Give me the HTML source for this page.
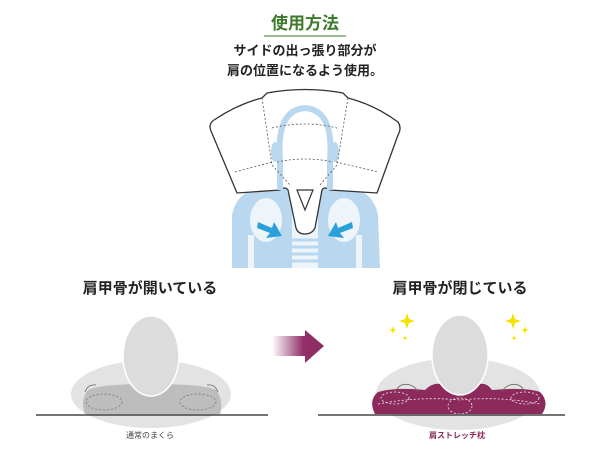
<!DOCTYPE html>
<html><head><meta charset="utf-8"><style>
html,body{margin:0;padding:0;background:#fff;}
svg{display:block;font-family:"Liberation Sans","Noto Sans CJK JP",sans-serif;}
</style></head><body>
<svg width="600" height="450" viewBox="0 0 600 450">
<defs>
<linearGradient id="ag" x1="0" x2="1"><stop offset="0" stop-color="#fff"/><stop offset="0.6" stop-color="#93306a"/><stop offset="1" stop-color="#8e2a60"/></linearGradient>
</defs>
<text x="305" y="29" text-anchor="middle" font-size="17" font-weight="bold" fill="#3d7a2a">使用方法</text>
<line x1="264" y1="36" x2="346" y2="36" stroke="#3d7a2a" stroke-width="1"/>
<text x="305" y="55" text-anchor="middle" font-size="13" font-weight="bold" fill="#222">サイドの出っ張り部分が</text>
<text x="305" y="75" text-anchor="middle" font-size="13" font-weight="bold" fill="#222">肩の位置になるよう使用。</text>
<!-- skeleton silhouette -->
<g fill="#b9d8f0">
<path d="M232 268 L232 215 Q236 192 262 186 L290 180 L320 180 L348 186 Q374 192 378 215 L380 268 Z"/>
</g>
<g fill="#fff" opacity="0.75">
<rect x="292" y="178" width="26" height="90"/>
<ellipse cx="266" cy="220" rx="16" ry="22"/><ellipse cx="344" cy="220" rx="16" ry="22"/>
<rect x="248" y="235" width="6" height="33"/><rect x="356" y="235" width="6" height="33"/>
</g>
<g stroke="#b9d8f0" stroke-width="3">
<line x1="290" y1="240" x2="320" y2="240"/><line x1="290" y1="247" x2="320" y2="247"/><line x1="290" y1="254" x2="320" y2="254"/><line x1="290" y1="261" x2="320" y2="261"/>
</g>
<!-- pillow outline -->
<path d="M267 93 Q305 86 343 93 L348 98 Q375 105 398 122 Q402 128 398 135 L377 193 L330 190 Q324 186 322 190 L315 228 Q312 234 305 234 Q298 234 296 228 L288 190 Q285 186 280 190 L237 193 L211 131 Q208 124 214 120 Q238 104 262 98 Z" fill="#fff" stroke="#333" stroke-width="1.3"/>
<path d="M280 190 L280 160 Q276 110 305 108 Q334 110 330 160 L330 190" fill="none" stroke="#b9d8f0" stroke-width="6"/>
<ellipse cx="275" cy="152" rx="4" ry="10" fill="#b9d8f0"/><ellipse cx="335" cy="152" rx="4" ry="10" fill="#b9d8f0"/>
<path d="M297 190 L313 190 L305 210 Z" fill="#fff" stroke="#333" stroke-width="1.2"/>
<g fill="none" stroke="#555" stroke-width="0.8" stroke-dasharray="2,2">
<path d="M262 98 L272 165 L290 185"/><path d="M348 98 L337 165 L320 185"/>
<path d="M272 128 Q305 120 337 128"/><path d="M277 162 Q305 156 333 162"/>
<path d="M235 172 L272 162"/><path d="M336 162 L378 172"/>
</g>
<path d="M258 222 L272 228 L274 222 L282 236 L266 238 L270 233 L257 228Z" fill="#2aa0dc"/>
<path d="M352 222 L338 228 L336 222 L328 236 L344 238 L340 233 L353 228Z" fill="#2aa0dc"/>
<text x="150" y="293" text-anchor="middle" font-size="15" font-weight="bold" fill="#222">肩甲骨が開いている</text>
<text x="460" y="293" text-anchor="middle" font-size="15" font-weight="bold" fill="#222">肩甲骨が閉じている</text>
<!-- left figure -->
<ellipse cx="151" cy="394" rx="80" ry="34" fill="#e3e3e3"/>
<path d="M85 414 Q80 400 88 390 Q100 384 150 384 Q205 384 216 390 Q224 400 220 414 Z" fill="#bdbdbd"/>
<ellipse cx="151" cy="325" rx="4" ry="6" fill="#d8d8d8"/>
<ellipse cx="151" cy="356" rx="28" ry="40" fill="#dcdcdc" stroke="#fff" stroke-width="1.5"/>
<g fill="none" stroke="#666" stroke-width="0.8"><path d="M85 392 Q88 384 96 385"/><path d="M218 392 Q215 384 207 385"/></g>
<g fill="none" stroke="#777" stroke-width="0.8" stroke-dasharray="2,2"><ellipse cx="104" cy="402" rx="18" ry="8"/><ellipse cx="198" cy="402" rx="18" ry="8"/></g>
<line x1="36" y1="415" x2="268" y2="415" stroke="#222" stroke-width="1.2"/>
<text x="150" y="438" text-anchor="middle" font-size="8" fill="#444">通常のまくら</text>
<path d="M272 336 L305 336 L305 330 L324 346 L305 363 L305 356 L272 356 Z" fill="url(#ag)"/>
<!-- right figure -->
<ellipse cx="458" cy="394" rx="82" ry="36" fill="#e3e3e3"/>
<path d="M375 414 Q368 400 378 392 Q395 387 425 390 Q435 380 445 386 Q460 394 475 386 Q485 380 492 390 Q525 387 540 392 Q550 402 542 414 Z" fill="#8c2a5c"/>
<ellipse cx="459" cy="325" rx="4" ry="6" fill="#d8d8d8"/>
<ellipse cx="460" cy="355" rx="28" ry="40" fill="#dcdcdc" stroke="#fff" stroke-width="1.5"/>
<g fill="none" stroke="#666" stroke-width="0.8"><path d="M395 392 Q400 382 410 385 Q416 387 418 392"/><path d="M525 392 Q520 382 510 385 Q504 387 502 392"/></g>
<g fill="none" stroke="#eee" stroke-width="0.8" stroke-dasharray="2,2"><path d="M378 404 Q420 396 460 400 Q500 396 540 404"/><ellipse cx="460" cy="406" rx="12" ry="8"/><ellipse cx="395" cy="398" rx="14" ry="6"/><ellipse cx="525" cy="398" rx="14" ry="6"/></g>
<line x1="318" y1="415" x2="565" y2="415" stroke="#222" stroke-width="1.2"/>
<g fill="#f5e400">
<path d="M407 313 L409 319 L415 321 L409 323 L407 329 L405 323 L399 321 L405 319Z"/>
<path d="M393 326 L394 329 L397 330 L394 331 L393 334 L392 331 L389 330 L392 329Z"/>
<circle cx="405" cy="338" r="1.5"/>
<path d="M513 313 L515 319 L521 321 L515 323 L513 329 L511 323 L505 321 L511 319Z"/>
<path d="M525 326 L526 329 L529 330 L526 331 L525 334 L524 331 L521 330 L524 329Z"/>
<circle cx="514" cy="338" r="1.5"/>
</g>
<text x="457" y="438" text-anchor="middle" font-size="8" font-weight="bold" fill="#8c2a5c">肩ストレッチ枕</text>
</svg>
</body></html>
